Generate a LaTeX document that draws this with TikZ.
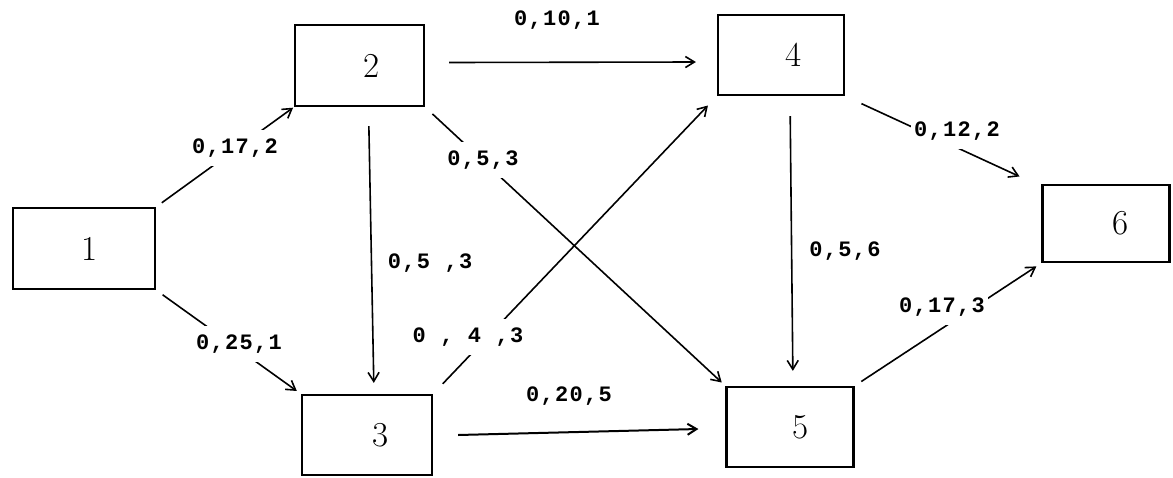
\documentclass[tikz,border=0pt]{standalone}
\usepackage{fontspec}
\newfontfamily\lblfont[LetterSpace=6]{Liberation Mono}
\usetikzlibrary{arrows.meta,calc}
\begin{document}
\begin{tikzpicture}[x=1pt,y=-1pt,
  box/.style={draw, line width=2.2pt, inner sep=0pt, font=\fontsize{35}{35}\selectfont},
  lbl/.style={font=\lblfont\bfseries\fontsize{22}{22}\selectfont, fill=white, inner xsep=3pt, inner ysep=9pt},
  edge/.style={line width=1.6pt, -{Straight Barb[length=9pt,width=11pt]}}]
\useasboundingbox[fill=white] (0,0) rectangle (1173,477);
% boxes
\node[box, minimum width=142pt, minimum height=81pt] (b1) at (84,248.5) {\hspace*{12pt}1};
\node[box, minimum width=129pt, minimum height=81pt] (b2) at (359.5,65.5) {\hspace*{24pt}2};
\node[box, minimum width=130pt, minimum height=80pt] (b3) at (367,435) {\hspace*{28pt}3};
\node[box, minimum width=126pt, minimum height=80pt] (b4) at (781,55) {\hspace*{26pt}4};
\node[box, minimum width=127pt, minimum height=80pt] (b5) at (790,427) {\hspace*{22pt}5};
\node[box, minimum width=127pt, minimum height=77pt] (b6) at (1106,223.5) {\hspace*{30pt}6};
% connectors
\draw[edge, shorten <=7pt, shorten >=1pt] (b1.north east) -- (b2.south west);
\draw[edge, shorten <=8pt, shorten >=5pt] (b1.south east) -- (b3.north west);
\draw[edge, shorten <=19pt, shorten >=11pt] ($(b2.south)+(9,0)$) -- ($(b3.north)+(7,0)$);
\draw[edge, shorten <=10pt, shorten >=5pt] (b2.south east) -- (b5.north west);
\draw[edge, shorten <=14pt, shorten >=13pt] (b3.north east) -- (b4.south west);
\draw[edge] ($(b2.east)+(24,-3)$) -- ($(b4.west)+(-21,7)$);
\draw[edge, line width=2pt] ($(b3.east)+(25,0)$) -- ($(b5.west)+(-27,2)$);
\draw[edge, shorten <=20pt, shorten >=15pt] ($(b4.south)+(9,0)$) -- ($(b5.north)+(3,0)$);
\draw[edge, shorten <=18pt, shorten >=1pt] (b4.south east) -- ($(b6.north west)+(-21,-7)$);
\draw[edge, shorten <=8pt, shorten >=6pt] (b5.north east) -- (b6.south west);
% labels
\node[lbl] (l12) at (235,148) {0,17,2};
\node[lbl] (l13) at (239,344) {0,25,1};
\node[lbl, fill=none] (l23) at (430,263) {0,5 ,3};
\node[lbl] (l25) at (483,160) {0,5,3};
\node[lbl] (l34) at (468,337) {0 , 4 ,3};
\node[lbl, fill=none] (l24) at (557,20) {0,10,1};
\node[lbl, fill=none] (l35) at (569,396) {0,20,5};
\node[lbl, fill=none] (l45) at (845,251) {0,5,6};
\node[lbl] (l46) at (957,131) {0,12,2};
\node[lbl] (l56) at (942,307) {0,17,3};
\end{tikzpicture}
\end{document}
